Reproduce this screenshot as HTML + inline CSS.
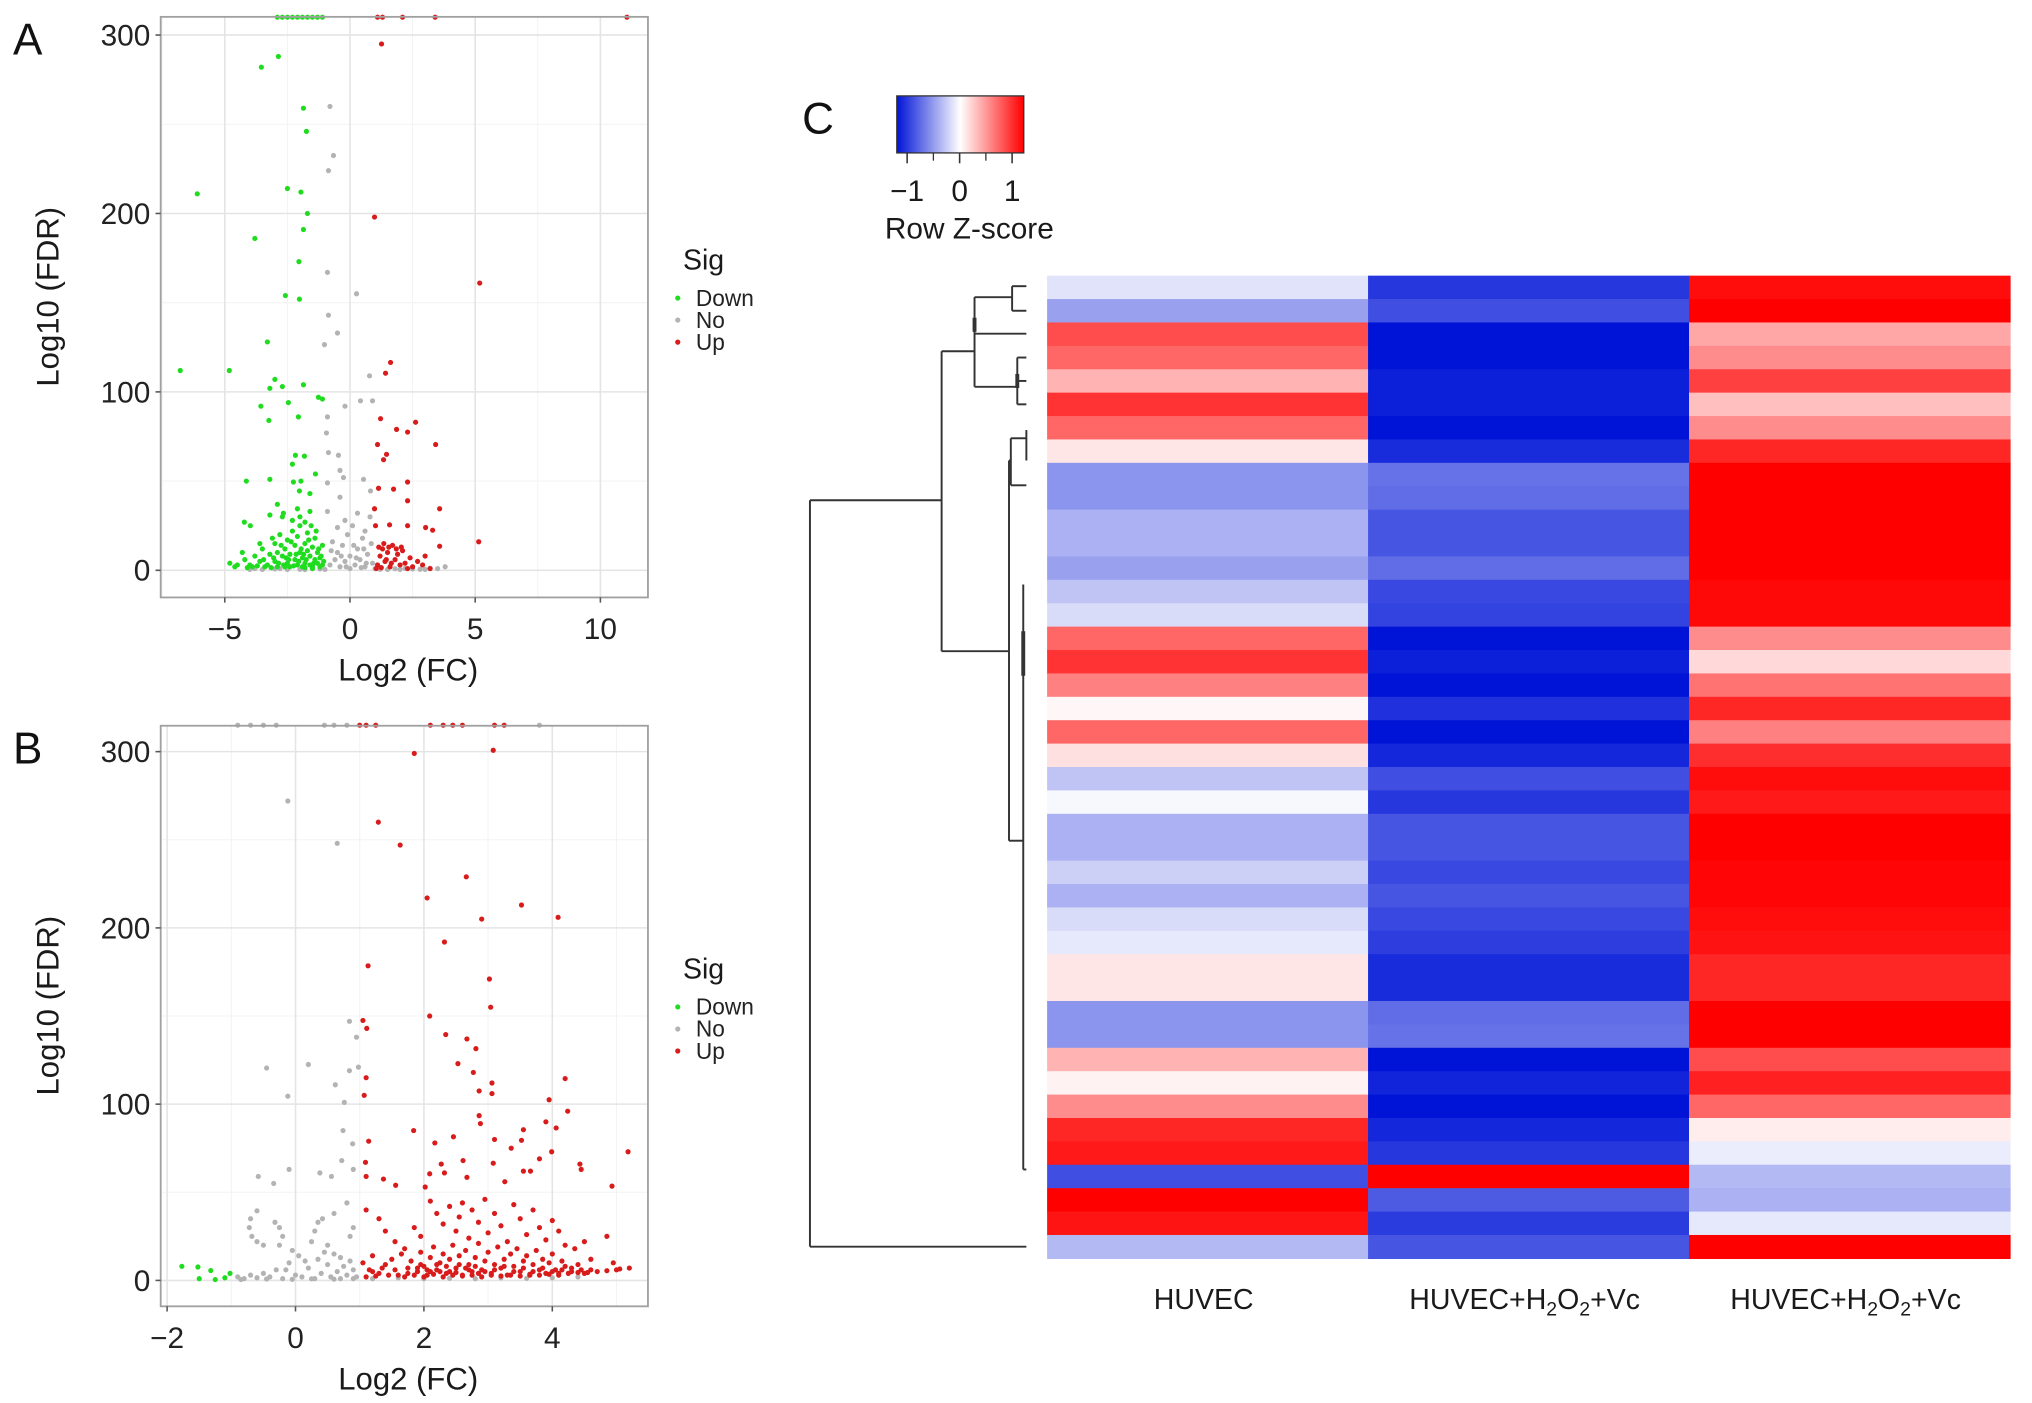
<!DOCTYPE html>
<html><head><meta charset="utf-8"><style>
html,body{margin:0;padding:0;background:#fff;}
svg{display:block;font-family:"Liberation Sans",Arial,sans-serif;}
</style></head><body>
<svg id="fig" width="2032" height="1403" viewBox="0 0 1568 1082.6" preserveAspectRatio="none" xmlns="http://www.w3.org/2000/svg">
<defs>
<linearGradient id="zgrad" x1="0" x2="1" y1="0" y2="0">
<stop offset="0" stop-color="rgb(0,20,215)"/><stop offset="0.5" stop-color="#ffffff"/><stop offset="1" stop-color="rgb(255,0,0)"/>
</linearGradient>
</defs>
</svg>
<script>
// ---------- Panel A data ----------
const aDown = [[-2.86,288],[-3.54,282],[-1.86,259],[-1.74,246],[-6.1,211],[-2.5,214],[-1.96,212],[-1.7,200],[-1.86,191],[-3.8,186],[-2.04,173],[-2.58,154],[-2.02,152],[-3.3,128],[-6.78,112],[-4.82,112],[-3,107],[-2.7,103],[-3.2,102],[-1.86,104],[-1.26,97],[-1.1,96],[-2.46,94],[-3.56,92],[-3.24,84],[-2.06,86],[-2.18,64.5],[-1.82,64],[-2.3,59.5],[-1.38,54],[-4.14,50],[-3.2,51],[-2.26,49.5],[-1.96,50],[-2.02,44.5],[-1.6,43],[-2.9,37],[-2.1,34.5],[-3.2,31],[-2.66,32],[-1.6,33],[-4.22,27],[-3.98,25],
[-4.8,4],[-4.5,3],[-4.2,6],[-4.0,3],[-3.8,8],[-3.6,5],[-3.5,12],[-3.3,3],[-3.2,9],[-3.0,15],[-3.0,5],[-2.9,2],[-2.8,20],[-2.7,8],[-2.6,12],[-2.5,4],[-2.5,17],[-2.4,2],[-2.4,9],[-2.3,22],[-2.2,6],[-2.2,14],[-2.1,3],[-2.1,19],[-2.0,10],[-2.0,25],[-1.9,2],[-1.9,7],[-1.8,15],[-1.8,4],[-1.7,11],[-1.7,21],[-1.6,3],[-1.6,8],[-1.5,13],[-1.5,2],[-1.4,6],[-1.4,18],[-1.3,4],[-1.3,10],[-1.2,2],[-1.2,7],[-1.1,3],[-1.1,14],[-1.05,5],[-3.9,2],[-3.4,2],[-2.6,2],[-1.8,1.5],[-1.5,1],[-2.9,10],[-2.3,28],[-2.0,30],[-1.8,27],[-2.7,30],[-3.1,18],[-3.6,15],[-4.3,10],[-2.45,6],[-2.15,9],[-1.95,12],[-1.65,17],[-1.35,22],[-2.75,14],[-3.05,7],[-1.25,12],[-1.55,25],[-2.35,16],
[-4.6,2],[-4.1,1.5],[-3.7,2.5],[-3.15,1.5],[-2.85,4],[-2.55,7],[-2.25,2.5],[-1.85,9],[-1.45,4],[-1.15,8],[-2.05,5],[-1.75,6],[-2.65,3],[-3.45,6],
[-2.9,310],[-2.7,310],[-2.5,310],[-2.3,310],[-2.1,310],[-1.9,310],[-1.7,310],[-1.5,310],[-1.3,310],[-1.1,310]];
const aNo = [[-0.8,260],[-0.66,232.5],[-0.86,224],[-0.9,167],[0.26,155],[-0.86,143],[-0.5,133],[-1.02,126.5],[0.78,109],[0.42,95],[0.9,95],[-0.2,92],[-0.9,86],[-0.94,77],[-0.86,66],[-0.46,64.5],[-0.4,56],[0.54,51],[-0.9,49],[-0.26,52],[-0.4,41],[0.82,44.5],
[-4,0.5],[-3.5,0.5],[-3,0.8],[-2.5,0.5],[-2,0.6],[-1.5,1],[-1,0.5],[-0.8,3],[-0.6,6],[-0.5,10],[-0.4,2],[-0.3,14],[-0.2,5],[-0.1,20],[0,8],[0,1],[0.1,25],[0.2,3],[0.3,12],[0.4,6],[0.5,18],[0.6,2],[0.7,9],[0.8,30],[0.9,4],[1,1],[1.5,0.5],[2,0.5],[2.5,0.8],[3,0.5],[3.5,1],[3.8,2],[-0.7,16],[-0.2,28],[0.3,32],[0.6,22],[-0.9,33],[-0.5,24],[-0.75,11],[0.15,14],[0.55,12],[0.85,15],[-0.35,8],[0.25,7],[-3.8,1],[-2.8,1],[-1.8,0.4],[-1.2,0.8],[1.2,0.6],[1.8,0.9],[2.2,1.1],[2.8,0.6],[3.2,1.2],[-0.15,2],[0.45,1.5],[0.65,4]];
const aUp = [[1.1,310],[1.3,310],[2.1,310],[3.4,310],[11.06,310],[1.26,295],[0.98,198],[5.18,161],[1.62,116.5],[1.42,110.5],[1.22,85],[2.62,83],[1.86,79],[2.3,77.5],[1.1,70.5],[3.42,70.5],[1.46,65],[1.34,62],[2.3,49.5],[1.14,46],[1.74,45.5],[2.3,39],[0.98,34.5],[3.58,34.5],[1.02,25],[1.58,25.5],[2.3,25],[3.02,24],[3.3,22.5],[5.14,16],[3.58,13.5],
[1.1,3],[1.2,8],[1.3,12],[1.4,5],[1.5,10],[1.6,2],[1.7,14],[1.8,6],[1.9,9],[2.0,3],[2.1,11],[2.2,4],[2.4,7],[2.5,2],[2.7,5],[3.0,8],[1.05,1],[1.25,1.5],[1.45,6],[1.65,4],[1.85,12],[2.05,13],[1.35,15],[2.3,1],[2.9,3],[3.2,1],[1.15,13],[1.55,13]];

// ---------- Panel B data ----------
const bDown = [[-1.77,8],[-1.52,7.6],[-1.32,5.6],[-1.02,4],[-1.5,1],[-1.25,0.5],[-1.1,1.5]];
const bNo = [[-0.12,272],[0.65,248],[-0.45,120.5],[0.2,122.5],[0.95,138],[0.84,147],[0.62,111],[0.84,119],[0.98,121],[-0.12,104.5],[0.76,101],[0.74,85],[0.89,77.5],[0.72,68],[0.9,63],[-0.1,63],[0.38,61],[0.56,59],[-0.58,59],[-0.34,55],[-0.6,39.5],[-0.7,35],[-0.72,30],[-0.68,25],[-0.6,22],[-0.5,20],[-0.32,33],[-0.25,30],[-0.2,25],[-0.25,20],[0.35,33],[0.42,35],[0.3,28],[0.25,22],[0.5,20],[0.85,25],[0.9,30],[0.8,44],[0.6,38],
[-0.9,2],[-0.8,1],[-0.7,3],[-0.6,1.5],[-0.5,4],[-0.4,2],[-0.3,6],[-0.2,1],[-0.1,10],[0,3],[0.05,14],[0.1,2],[0.2,7],[0.3,1],[0.35,12],[0.4,4],[0.5,9],[0.55,2],[0.6,15],[0.65,5],[0.7,1],[0.75,8],[0.8,3],[0.85,11],[0.9,6],[0.95,2],[-0.15,6],[-0.05,17],[0.15,11],[0.45,16],[0.7,13],[1.2,1],[1.6,1.5],[2.0,1],[2.4,1.2],[2.8,1],[3.2,1.5],[3.6,1.2],[4.0,1.5],[4.4,2],[-0.85,0.5],[-0.45,0.8],[-0.05,0.6],[0.25,0.9],[0.6,0.7],[0.9,1],[-0.9,315],[-0.7,315],[-0.5,315],[-0.3,315],[0.45,315],[0.6,315],[0.8,315],[3.8,315]];
const bUp = [[1.0,315],[1.1,315],[1.25,315],[2.1,315],[2.3,315],[2.45,315],[2.6,315],[3.1,315],[3.25,315],
[1.85,299],[3.08,300.8],[1.29,260],[1.63,247],[2.66,229],[2.05,217],[3.52,213],[4.09,206],[2.9,205],[2.32,192],[1.13,178.5],[3.02,171],[3.04,155],[2.09,150],[1.05,147.5],[1.11,143],[2.34,139.5],[2.67,137],[2.81,131.5],[2.53,123],[2.77,118],[4.2,114.5],[1.1,115],[3.06,112],[2.86,107.5],[3.06,106],[1.07,105],[3.95,102.5],[2.86,93.5],[2.88,89],[3.9,90],[4.24,96],[1.84,85],[3.55,85.5],[4.06,86.5],[2.46,81.5],[3.1,80],[1.14,79],[2.17,78],[3.52,79.5],[3.36,75],[5.18,73],[3.99,73],[3.8,69],[3.08,66.5],[2.27,66],[2.61,68],[4.43,66],[4.45,63],[1.09,67],[3.55,62],[3.66,62],[2.09,60.5],[1.1,59],[2.32,61],[2.67,58.5],[3.26,56],[1.37,57.5],[1.56,54],[4.93,53.5],[2.02,53],
[1.1,40],[1.3,35],[1.4,28],[1.55,22],[1.7,18],[1.85,30],[1.95,25],[2.1,45],[2.2,38],[2.3,32],[2.4,42],[2.5,28],[2.55,36],[2.6,44],[2.7,24],[2.75,40],[2.85,33],[2.95,46],[3.0,27],[3.1,38],[3.2,31],[3.3,22],[3.4,43],[3.5,35],[3.6,26],[3.7,40],[3.8,30],[3.9,23],[4.0,34],[4.1,28],[4.2,20],[4.35,18],[4.5,22],[4.6,12],[4.85,25],[4.95,10],[5.2,7],[5.0,6],
[1.05,10],[1.15,6],[1.2,14],[1.3,4],[1.4,9],[1.5,12],[1.6,3],[1.65,15],[1.75,7],[1.8,11],[1.9,5],[1.95,16],[2.0,8],[2.05,3],[2.1,13],[2.15,19],[2.2,6],[2.25,10],[2.3,15],[2.35,4],[2.4,12],[2.45,20],[2.5,7],[2.55,14],[2.6,3],[2.65,17],[2.7,9],[2.75,5],[2.8,13],[2.85,21],[2.9,6],[2.95,11],[3.0,16],[3.05,4],[3.1,9],[3.15,19],[3.2,7],[3.25,12],[3.3,3],[3.35,15],[3.4,8],[3.45,18],[3.5,5],[3.55,11],[3.6,14],[3.65,3],[3.7,9],[3.75,17],[3.8,6],[3.85,12],[3.9,4],[3.95,10],[4.0,15],[4.05,6],[4.1,3],[4.15,11],[4.2,8],[4.3,5],[4.4,9],[4.5,4],[4.6,6],
[1.1,2],[1.25,2.5],[1.45,3],[1.7,2],[1.85,3],[2.0,2],[2.15,3.5],[2.3,2],[2.45,3],[2.6,2.5],[2.75,3],[2.9,2],[3.05,3],[3.2,2.5],[3.35,3],[3.5,2.5],[3.65,3.5],[3.8,3],[3.95,3.5],[4.1,4],[4.25,4],[4.4,4.5],[4.55,4.5],[2.05,6],[2.25,5],[2.5,4.5],[2.85,4],[1.95,9],[2.35,8],[2.65,7],
[1.2,5],[1.35,7],[1.55,6],[1.75,4],[1.9,7],[2.1,5],[2.2,9],[2.4,5],[2.55,9],[2.7,6],[2.8,8],[2.95,5],[3.1,6],[3.25,8],[3.4,5],[3.55,7],[3.7,5],[3.85,7],[4.0,5],[4.15,6],[4.3,7],[4.45,6],[4.7,5],[4.85,5.5],[5.05,6.5]];

// ---------- Heatmap data ----------
const hmColumns = ["HUVEC","HUVEC+H2O2+Vc","HUVEC+H2O2+Vc"];
const hmCol1 = [-0.12,-0.4,0.7,0.6,0.3,0.8,0.6,0.1,-0.45,-0.45,-0.33,-0.33,-0.4,-0.25,-0.15,0.6,0.8,0.5,0.03,0.6,0.12,-0.25,-0.03,-0.33,-0.33,-0.2,-0.33,-0.15,-0.1,0.1,0.1,-0.45,-0.45,0.3,0.05,0.45,0.85,0.9,-0.75,1.0,0.92,-0.3];
const hmCol2 = [-0.85,-0.75,-1.0,-1.0,-0.95,-0.95,-1.0,-0.9,-0.6,-0.62,-0.72,-0.72,-0.62,-0.78,-0.8,-1.0,-0.95,-1.0,-0.88,-1.0,-0.92,-0.75,-0.85,-0.72,-0.72,-0.78,-0.72,-0.78,-0.82,-0.9,-0.9,-0.62,-0.6,-1.0,-0.93,-1.0,-0.92,-0.85,1.0,-0.7,-0.83,-0.72];
const hmCol3 = [0.95,1.0,0.35,0.45,0.75,0.25,0.45,0.85,1.0,1.0,1.0,1.0,1.0,0.97,0.97,0.45,0.15,0.55,0.85,0.5,0.82,0.95,0.9,1.0,1.0,0.98,0.98,0.95,0.93,0.85,0.85,1.0,1.0,0.7,0.87,0.6,0.07,-0.08,-0.3,-0.33,-0.1,1.0];
const zTicks = [-1,0,1];

const NS = "http://www.w3.org/2000/svg";
const svg = document.getElementById('fig');
function mk(tag, attrs, parent){ const e=document.createElementNS(NS,tag); for(const k in attrs) e.setAttribute(k,attrs[k]); (parent||svg).appendChild(e); return e; }
function txt(str, attrs, parent){ const e=mk('text',attrs,parent); e.textContent=str; return e; }

function volcano(name, box, xr, yr, xMaj, xMin, yMaj, yMin, down, no, up, letter){
  const g = mk('g',{});
  
  
  const sx = v => box.x0 + (v - xr[0])/(xr[1]-xr[0])*(box.x1-box.x0);
  const sy = v => box.y1 - (v - yr[0])/(yr[1]-yr[0])*(box.y1-box.y0);
  mk('rect',{x:box.x0,y:box.y0,width:box.x1-box.x0,height:box.y1-box.y0,fill:'#fff'},g);
  xMin.forEach(v=>mk('line',{x1:sx(v),x2:sx(v),y1:box.y0,y2:box.y1,stroke:'#f3f3f3','stroke-width':0.8},g));
  yMin.forEach(v=>mk('line',{y1:sy(v),y2:sy(v),x1:box.x0,x2:box.x1,stroke:'#f3f3f3','stroke-width':0.8},g));
  xMaj.forEach(v=>mk('line',{x1:sx(v),x2:sx(v),y1:box.y0,y2:box.y1,stroke:'#e4e4e4','stroke-width':1.2},g));
  yMaj.forEach(v=>mk('line',{y1:sy(v),y2:sy(v),x1:box.x0,x2:box.x1,stroke:'#e4e4e4','stroke-width':1.2},g));
  const pts = mk('g',{},g);
  
  
  const dot=(arr,col,nm)=>arr.forEach(p=>{ const c=mk('circle',{cx:sx(p[0]),cy:sy(p[1]),r:2,fill:col},pts);
    
     });
  dot(no,'#b3b3b3','point-no');
  dot(down,'#1fdc1f','point-down');
  dot(up,'#d81b1b','point-up');
  mk('rect',{x:box.x0,y:box.y0,width:box.x1-box.x0,height:box.y1-box.y0,fill:'none',stroke:'#a0a0a0','stroke-width':1.4},g);
  xMaj.forEach(v=>{ mk('line',{x1:sx(v),x2:sx(v),y1:box.y1,y2:box.y1+4,stroke:'#555','stroke-width':1.2},g);
    const t=txt(v<0?'\u2212'+Math.abs(v):String(v),{x:sx(v),y:box.y1+32,'font-size':23,'text-anchor':'middle',fill:'#222'},g);
    
     });
  yMaj.forEach(v=>{ mk('line',{x1:box.x0-4,x2:box.x0,y1:sy(v),y2:sy(v),stroke:'#555','stroke-width':1.2},g);
    const t=txt(String(v),{x:box.x0-8,y:sy(v)+8,'font-size':23,'text-anchor':'end',fill:'#222'},g);
    
     });
  const xt=txt('Log2 (FC)',{x:(box.x0+box.x1)/2+3,y:box.y1+64,'font-size':24,'text-anchor':'middle',fill:'#1a1a1a'},g);
  
  
  const yc=(box.y0+box.y1)/2-8;
  const yt=txt('Log10 (FDR)',{x:0,y:0,'font-size':24,'text-anchor':'middle',fill:'#1a1a1a',transform:`translate(45,${yc}) rotate(-90)`},g);
  
  
  const L=txt(letter,{x:10,y:box.y0+29,'font-size':34,fill:'#111'},g);
  
  
  const lg=mk('g',{},g);
  
  
  const ly=box.y0+195;
  txt('Sig',{x:527,y:ly,'font-size':22,fill:'#1a1a1a'},lg);
  [['Down','#1fdc1f'],['No','#b3b3b3'],['Up','#d81b1b']].forEach((e,i)=>{
    const y=ly+22+i*17;
    const c=mk('circle',{cx:523,cy:y,r:2,fill:e[1]},lg);
    
    
    const t=txt(e[0],{x:537,y:y+6,'font-size':17.5,fill:'#222'},lg);
    
    
  });
}

volcano('volcano-a',{x0:124,x1:500,y0:13,y1:461},[-7.56,11.9],[-15.2,310.2],[-5,0,5,10],[-7.5,-2.5,2.5,7.5],[0,100,200,300],[50,150,250],aDown,aNo,aUp,'A');
volcano('volcano-b',{x0:124,x1:500,y0:560,y1:1008},[-2.10,5.49],[-14.7,314.7],[-2,0,2,4],[-1,1,3,5],[0,100,200,300],[50,150,250],bDown,bNo,bUp,'B');

// ---------- Heatmap ----------
function zcol(v){ const t=Math.max(-1,Math.min(1,v));
  if(t<0){ const a=-t; return `rgb(${Math.round(255*(1-a))},${Math.round(255-235*a)},${Math.round(255-40*a)})`; }
  return `rgb(255,${Math.round(255*(1-t))},${Math.round(255*(1-t))})`; }
const hm = mk('g',{});


const HX0=808, HX1=1551, HY0=212.7, HY1=971;
const nR = hmCol1.length, cw=(HX1-HX0)/3, rh=(HY1-HY0)/nR;
[hmCol1,hmCol2,hmCol3].forEach((col,ci)=>{
  col.forEach((v,ri)=>{
    const r=mk('rect',{x:HX0+ci*cw,y:HY0+ri*rh,width:cw+0.5,height:rh+0.5,fill:zcol(v)},hm);
    
    
  });
});
hmColumns.forEach((c,ci)=>{
  const t=mk('text',{x:HX0+ci*cw+cw/2-3,y:1010,'font-size':22,'text-anchor':'middle',fill:'#1a1a1a'},hm);
  
  
  if(c==='HUVEC'){ t.textContent='HUVEC'; }
  else { const parts=[['HUVEC+H',0],['2',1],['O',0],['2',1],['+Vc',0]];
    parts.forEach(p=>{ const s=document.createElementNS(NS,'tspan'); s.textContent=p[0];
      if(p[1]){ s.setAttribute('font-size','15'); s.setAttribute('dy','5'); }
      t.appendChild(s); });
    const sp=t.querySelectorAll('tspan');
    sp[2].setAttribute('dy','-5'); sp[4].setAttribute('dy','-5');
  }
});

// ---------- Dendrogram (leaf-index coordinates) ----------
const dg = mk('g',{stroke:'#333','stroke-width':1.5,fill:'none'});


const ry = i => HY0 + rh*i;
const segs = [
 [625,ry(9.6),625,ry(41.5)],[625,ry(9.6),726.6,ry(9.6)],[625,ry(41.5),792,ry(41.5)],
 [726.6,ry(3.23),726.6,ry(16.05)],
 [726.6,ry(3.23),752,ry(3.23)],
 [752,ry(0.92),752,ry(4.75)],
 [752,ry(0.92),781,ry(0.92)],[781,ry(0.45),781,ry(1.5)],[781,ry(0.45),792,ry(0.45)],[781,ry(1.5),792,ry(1.5)],
 [752,ry(2.48),792,ry(2.48)],
 [752,ry(4.75),785,ry(4.75)],[785,ry(3.5),785,ry(5.5)],[785,ry(3.5),792,ry(3.5)],[785,ry(4.5),792,ry(4.5)],[785,ry(5.5),792,ry(5.5)],
 [726.6,ry(16.05),778.6,ry(16.05)],
 [778.6,ry(7.9),778.6,ry(24.15)],
 [778.6,ry(7.9),780,ry(7.9)],[780,ry(6.95),780,ry(8.96)],[780,ry(6.95),792,ry(6.95)],[780,ry(8.96),792,ry(8.96)],[792,ry(6.6),792,ry(7.9)],
 [778.6,ry(24.15),789.6,ry(24.15)],
 [789.6,ry(13.2),789.6,ry(38.2)],[789.6,ry(38.2),792,ry(38.2)]
];
segs.forEach(s=>mk('line',{x1:s[0],y1:s[1],x2:s[2],y2:s[3]},dg));
mk('line',{x1:789.6,y1:ry(15.2),x2:789.6,y2:ry(17.1),'stroke-width':3},dg);
mk('line',{x1:752,y1:ry(1.8),x2:752,y2:ry(2.4),'stroke-width':3},dg);
mk('line',{x1:785,y1:ry(4.2),x2:785,y2:ry(4.8),'stroke-width':3},dg);

// ---------- Colour key ----------
const ck = mk('g',{});


mk('rect',{x:692,y:74,width:98,height:44,fill:'url(#zgrad)',stroke:'#333','stroke-width':1},ck);
const kx = v => 740.5 + v*40.5;
zTicks.forEach(v=>{
  mk('line',{x1:kx(v),x2:kx(v),y1:118,y2:126,stroke:'#333','stroke-width':1.2},ck);
  const t=txt(v<0?'\u2212'+Math.abs(v):String(v),{x:kx(v),y:155,'font-size':23,'text-anchor':'middle',fill:'#1a1a1a'},ck);
  
  
});
[-0.5,0.5].forEach(v=>mk('line',{x1:kx(v),x2:kx(v),y1:118,y2:124,stroke:'#333','stroke-width':1},ck));
const kt=txt('Row Z-score',{x:748,y:184,'font-size':23,'text-anchor':'middle',fill:'#1a1a1a'},ck);


const C=txt('C',{x:619,y:103,'font-size':34,fill:'#111'});


</script>
</body></html>
